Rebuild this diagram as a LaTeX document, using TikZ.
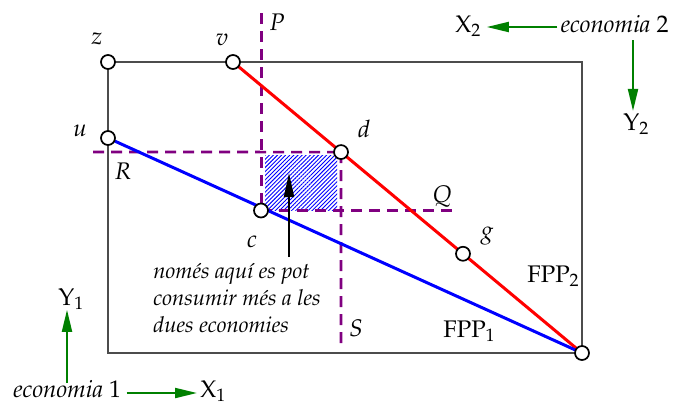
\documentclass[tikz,border=0pt]{standalone}
\usepackage[T1]{fontenc}
\usepackage{mathpazo}
\usetikzlibrary{arrows.meta,patterns.meta,calc}
\definecolor{pur}{RGB}{128,0,128}
\definecolor{grn}{RGB}{0,128,0}
\begin{document}
\begin{tikzpicture}[x=0.5pt,y=-0.5pt,
  every node/.style={font=\fontsize{12}{14}\selectfont, inner sep=0pt},
  note/.style={font=\fontsize{11}{13.5}\selectfont\itshape, anchor=base west},
  pt/.style={circle,draw=black,fill=white,line width=0.85pt,minimum size=7pt,inner sep=0pt},
  frame/.style={draw=black!70,line width=0.6pt},
  ppfone/.style={draw=blue,line width=1.5pt},
  ppftwo/.style={draw=red,line width=1.5pt},
  guide/.style={draw=pur,line width=1.3pt,dash pattern=on 5.5pt off 3.5pt},
  garrow/.style={draw=grn,line width=1pt,-{Triangle[length=11pt,width=5pt]}},
  karrow/.style={draw=black,line width=1pt,-{Triangle[length=12pt,width=5pt]}},
  lab/.style={anchor=center}
]
\useasboundingbox (0,0) rectangle (683,408);
% positions
\coordinate (Z) at (108,62);
\coordinate (TR) at (582,62);
\coordinate (O) at (582,353);
\coordinate (BL) at (108,353);
\coordinate (V) at (233,62);
\coordinate (U) at (108,138);
\coordinate (D) at ($(V)!0.3095!(O)$);
\coordinate (G) at ($(V)!0.659!(O)$);
\coordinate (C) at (261,210.5);
\coordinate (Ptop) at (261.5,13);
\coordinate (Rleft) at (93,152);
\coordinate (Sbot) at (341,347);
\coordinate (Qright) at (457,210.5);
% hatched region
\fill[pattern={Lines[angle=45,distance=1.45pt,line width=0.45pt]},pattern color=blue] (265,155) rectangle (337,210);
% frame
\draw[frame] (Z) -- (TR) -- (O) -- (BL) -- cycle;
% guides
\draw[guide] (Ptop) -- (Ptop |- C);
\draw[guide] (Rleft) -- (D);
\draw[guide] (D) -- (Sbot);
\draw[guide] (C) -- (Qright);
% frontiers
\draw[ppftwo] (V) -- (O);
\draw[ppfone] (U) -- (O);
% points
\node[pt] (z) at (Z) {};
\node[pt] (v) at (V) {};
\node[pt] (u) at (U) {};
\node[pt] (d) at (D) {};
\node[pt] (c) at (C) {};
\node[pt] (g) at (G) {};
\node[pt] (o) at (O) {};
% labels
\node[lab] (lz) at (97,39) {$z$};
\node[lab] (lv) at (222,40) {$v$};
\node[lab] (lP) at (277,22) {$P$};
\node[lab] (lu) at (80,131) {$u$};
\node[lab] (lR) at (123,171) {$R$};
\node[lab] (ld) at (364,129) {$d$};
\node[lab] (lc) at (252,242) {$c$};
\node[lab] (lQ) at (442,196) {$Q$};
\node[lab] (lg) at (487,236) {$g$};
\node[lab] (lS) at (356,328) {$S$};
\node[anchor=base west] (f2) at (527,282) {FPP$_2$};
\node[anchor=base west] (f1) at (443,337) {FPP$_1$};
% note
\node[note] (t1) at (153,278) {nom\'es aqu\'{\i} es pot};
\node[note] (t2) at (153,305) {consumir m\'es a les};
\node[note] (t3) at (153,332) {dues economies};
\coordinate (ka) at (289,257);
\coordinate (kb) at (289,173);
\draw[karrow] (ka) -- (kb);
% economy 1
\node[anchor=base west] (e1) at (13,397) {\textit{economia} 1};
\node[anchor=base west] (x1) at (200,397) {X$_1$};
\node[anchor=base west] (y1) at (58,305) {Y$_1$};
\draw[garrow] ([shift={(2.5pt,2pt)}]e1.base east) -- ([shift={(-1.5pt,2pt)}]x1.base west);
\coordinate (y1s) at (67,383);
\draw[garrow] (y1s) -- (y1s |- y1.south);
% economy 2
\node[anchor=base east] (e2) at (669,32) {\textit{economia} 2};
\node[anchor=base west] (x2) at (455,32) {X$_2$};
\node[anchor=base west] (y2) at (623,130) {Y$_2$};
\draw[garrow] ([shift={(-1.5pt,2.5pt)}]e2.base west) -- ([shift={(2.5pt,2.5pt)}]x2.base east);
\coordinate (y2s) at (633,40);
\draw[garrow] (y2s) -- ([yshift=1pt]y2s |- y2.north);
\end{tikzpicture}
\end{document}
